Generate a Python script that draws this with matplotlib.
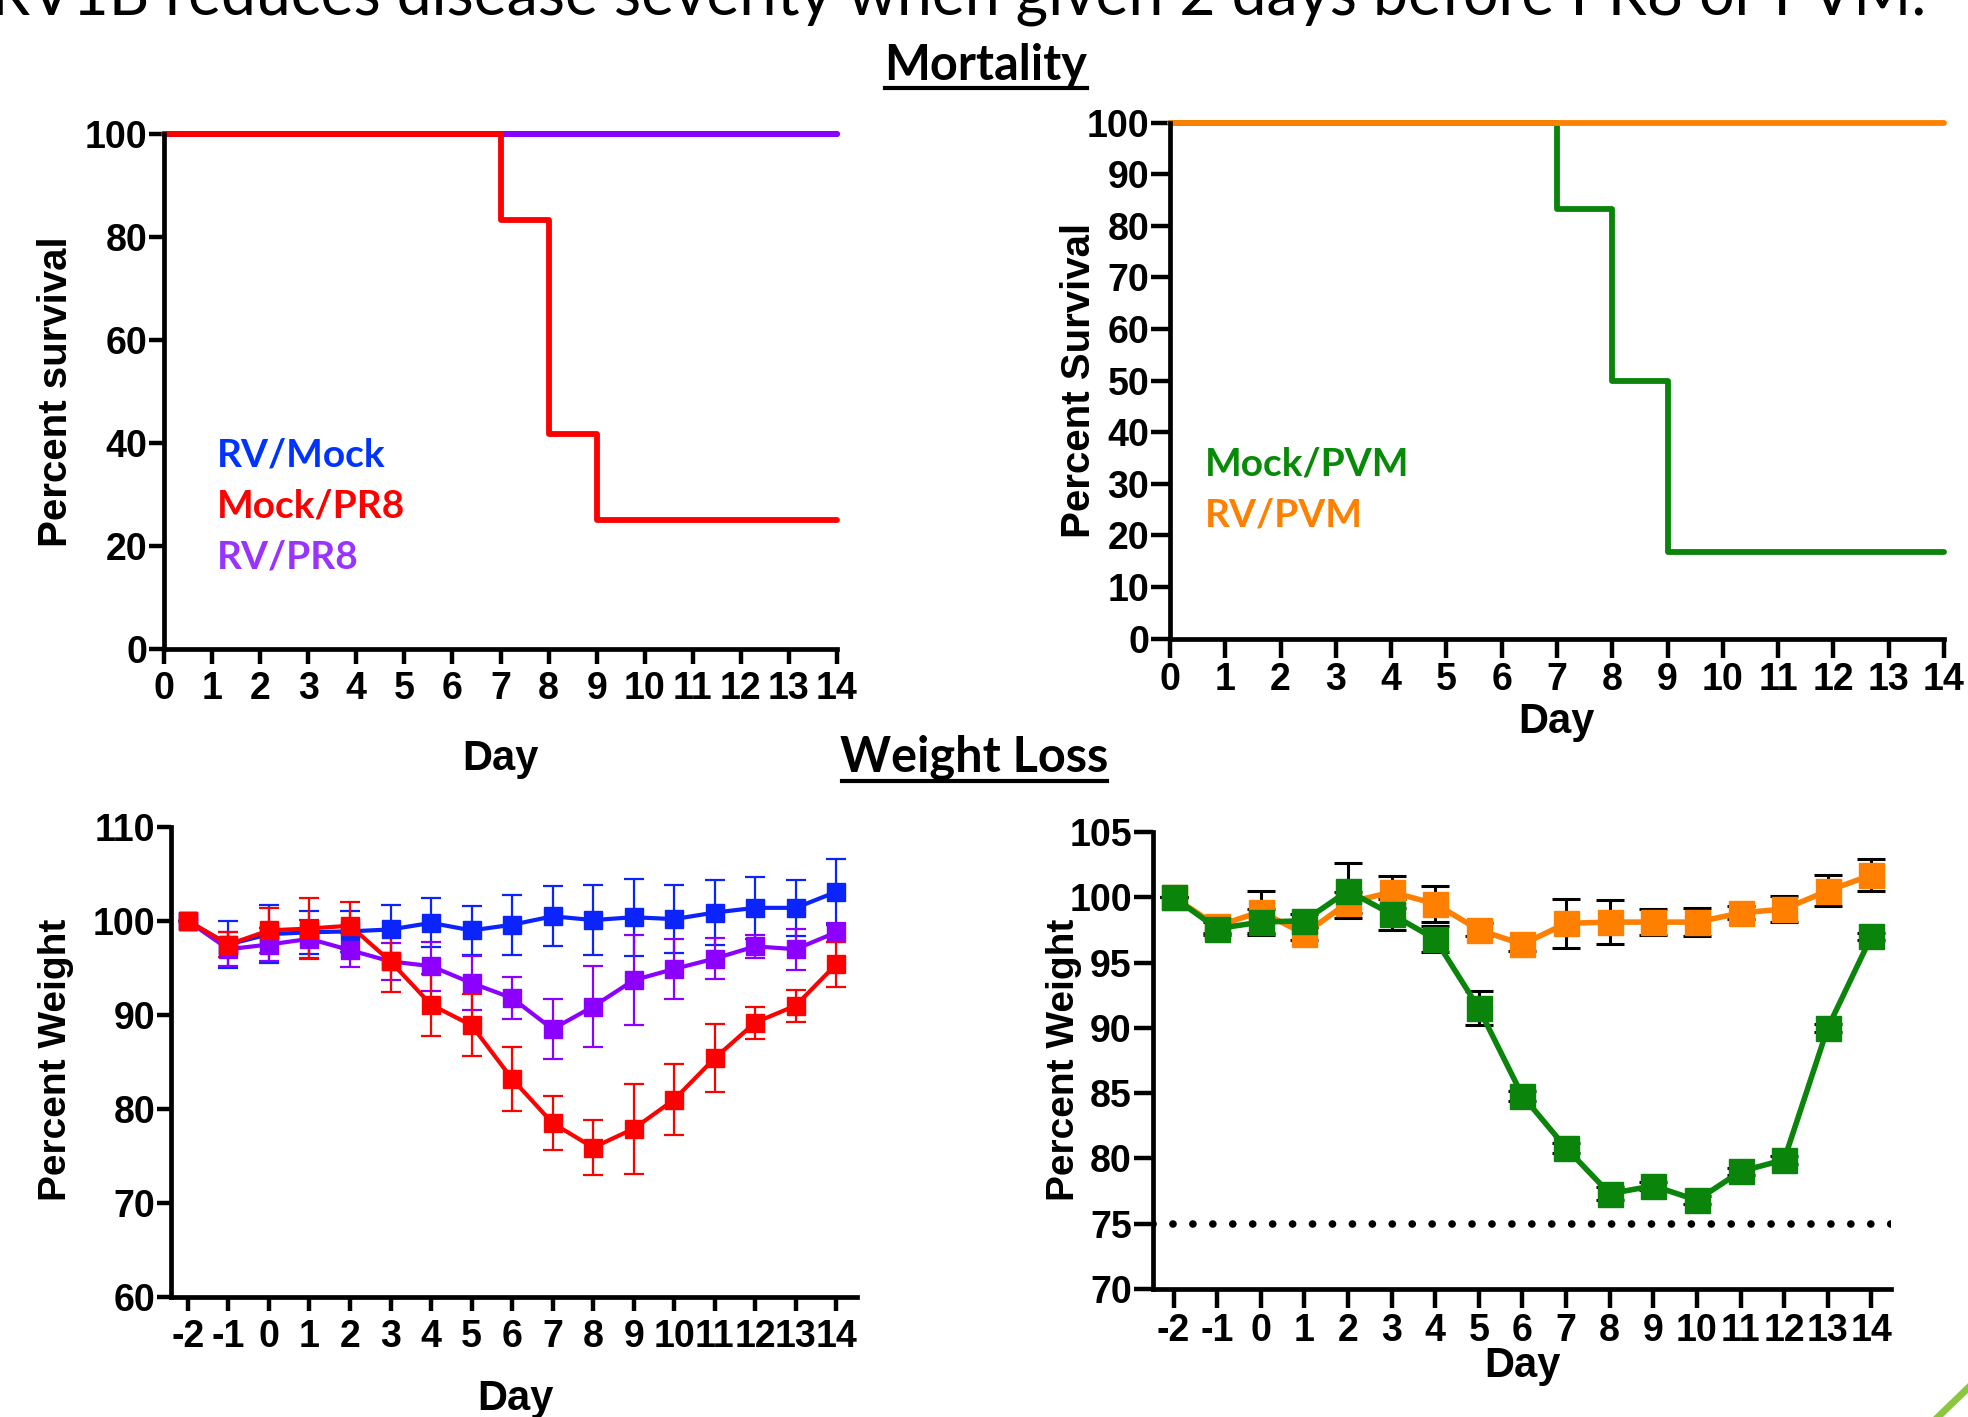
import matplotlib
matplotlib.use('Agg')
import matplotlib.pyplot as plt
from matplotlib.lines import Line2D

# survival curves (step after each day)
km_days = [0, 7, 8, 9, 14]
rv_mock_surv = [100, 100, 100, 100, 100]
mock_pr8_surv = [100, 83.3, 41.7, 25, 25]
rv_pr8_surv = [100, 100, 100, 100, 100]
mock_pvm_surv = [100, 83.3, 50, 16.7, 16.7]
rv_pvm_surv = [100, 100, 100, 100, 100]

# weight curves, days -2..14
wt_days = list(range(-2, 15))
rv_mock_wt = [100.0, 97.5, 98.6, 98.8, 98.9, 99.1, 99.8, 99.0, 99.6, 100.5, 100.1, 100.4, 100.2, 100.9, 101.4, 101.4, 103.1]
rv_mock_err = [0, 2.5, 3.1, 2.3, 2.2, 2.6, 2.6, 2.6, 3.2, 3.2, 3.7, 4.1, 3.6, 3.5, 3.3, 3.0, 3.5]
mock_pr8_wt = [100.0, 97.5, 99.0, 99.2, 99.5, 95.7, 91.1, 88.9, 83.2, 78.5, 75.9, 77.9, 81.0, 85.4, 89.2, 91.0, 95.4]
mock_pr8_err = [0, 1.3, 2.4, 3.2, 2.5, 3.3, 3.3, 3.3, 3.4, 2.9, 2.9, 4.8, 3.8, 3.6, 1.7, 1.7, 2.4]
rv_pr8_wt = [100.0, 97.0, 97.5, 98.1, 96.9, 95.7, 95.2, 93.4, 91.8, 88.5, 90.9, 93.7, 94.9, 96.0, 97.3, 97.0, 98.8]
rv_pr8_err = [0, 1.8, 1.8, 2.0, 1.8, 2.0, 2.6, 2.9, 2.2, 3.2, 4.3, 4.8, 3.2, 2.2, 1.2, 2.2, 1.0]

mock_pvm_wt = [100.0, 97.6, 98.1, 98.2, 100.5, 98.7, 96.8, 91.5, 84.8, 80.8, 77.3, 77.9, 76.8, 79.0, 79.9, 90.0, 97.0]
mock_pvm_err = [0, 0.5, 1.0, 0.5, 2.1, 1.2, 1.0, 1.3, 0.4, 0.4, 0.5, 0.3, 0.3, 0.3, 0.3, 0.3, 0.3]
rv_pvm_wt = [100.0, 97.8, 98.9, 97.2, 99.6, 100.4, 99.5, 97.5, 96.4, 98.0, 98.1, 98.1, 98.1, 98.8, 99.1, 100.5, 101.7]
rv_pvm_err = [0, 0.5, 1.6, 0.5, 0.8, 1.2, 1.4, 0.5, 0.5, 1.9, 1.7, 1.0, 1.1, 0.5, 1.0, 1.2, 1.2]

BLUE = '#0b24fb'
RED = '#fe0000'
PURPLE = '#8b00ff'
GREEN = '#0a840a'
ORANGE = '#ff8000'

NARROW = ['Liberation Sans Narrow', 'Liberation Sans', 'DejaVu Sans']
ARIAL = ['Liberation Sans', 'DejaVu Sans']
CALIBRI = ['Lato', 'DejaVu Sans']

plt.rcParams['font.family'] = NARROW
plt.rcParams['font.weight'] = 'bold'
plt.rcParams['axes.unicode_minus'] = False

W, H = 1968, 1417
fig = plt.figure(figsize=(W / 100, H / 100), dpi=100)


def rect(x0, y_bottom, w, h):
    return [x0 / W, 1 - y_bottom / H, w / W, h / H]


def fx(x):
    return x / W


def fy(y):
    return 1 - y / H


def style(ax, tick_len, pad_x, pad_y):
    for s in ['top', 'right']:
        ax.spines[s].set_visible(False)
    for s in ['left', 'bottom']:
        ax.spines[s].set_linewidth(3.4)
        ax.spines[s].set_capstyle('projecting')
    ax.tick_params(axis='both', direction='out', length=tick_len, width=3.2,
                   labelsize=27, color='black')
    ax.tick_params(axis='x', pad=pad_x)
    ax.tick_params(axis='y', pad=pad_y)
    for lab in ax.get_xticklabels() + ax.get_yticklabels():
        lab.set_fontweight('bold')
        lab.set_family(NARROW)


# ---------- Mortality, PR8 ----------
ax1 = fig.add_axes(rect(164, 649, 673, 515))
ax1.step(km_days, rv_mock_surv, where='post', color=BLUE, lw=4.2, clip_on=False,
         solid_capstyle='round')
ax1.step(km_days, rv_pr8_surv, where='post', color=PURPLE, lw=4.2, clip_on=False,
         solid_capstyle='round')
ax1.step(km_days, mock_pr8_surv, where='post', color=RED, lw=4.2, clip_on=False,
         solid_capstyle='round')
ax1.set_xlim(0, 14)
ax1.set_ylim(0, 100)
ax1.set_xticks(range(0, 15))
ax1.set_yticks(range(0, 101, 20))
style(ax1, 11, 5, 1)

# ---------- Mortality, PVM ----------
ax2 = fig.add_axes(rect(1170, 638.6, 774, 516))
ax2.step(km_days, mock_pvm_surv, where='post', color=GREEN, lw=4.2, clip_on=False,
         solid_capstyle='round')
ax2.step(km_days, rv_pvm_surv, where='post', color=ORANGE, lw=4.2, clip_on=False,
         solid_capstyle='round')
ax2.set_xlim(0, 14)
ax2.set_ylim(0, 100)
ax2.set_xticks(range(0, 15))
ax2.set_yticks(range(0, 101, 10))
style(ax2, 14, 3, 1)

# ---------- Weight, PR8 ----------
ax3 = fig.add_axes(rect(170.5, 1297, 686, 470))
for vals, errs, col in [(rv_mock_wt, rv_mock_err, BLUE),
                        (rv_pr8_wt, rv_pr8_err, PURPLE),
                        (mock_pr8_wt, mock_pr8_err, RED)]:
    ax3.errorbar(wt_days, vals, yerr=errs, color=col, lw=3, marker='s', ms=13,
                 elinewidth=1.6, capsize=7, capthick=1.6, clip_on=False)
ax3.set_xlim(-2.43, 14.5)
ax3.set_ylim(60, 110)
ax3.set_xticks(wt_days)
ax3.set_yticks(range(60, 111, 10))
style(ax3, 10, 6, 1)

# ---------- Weight, PVM ----------
ax4 = fig.add_axes(rect(1152.6, 1289, 738.4, 457))
ax4.axhline(75, color='black', lw=5.5, linestyle=(0, (0.01, 2.6)),
            dash_capstyle='round')
ax4.errorbar(wt_days, rv_pvm_wt, yerr=rv_pvm_err, color=ORANGE, lw=4, marker='s',
             ms=18, ecolor='black', elinewidth=2.2, capsize=10, capthick=2.2,
             clip_on=False)
ax4.errorbar(wt_days, mock_pvm_wt, yerr=mock_pvm_err, color=GREEN, lw=4, marker='s',
             ms=18, ecolor='black', elinewidth=2.2, capsize=10, capthick=2.2,
             clip_on=False)
ax4.set_xlim(-2.48, 14.45)
ax4.set_ylim(70, 105)
ax4.set_xticks(wt_days)
ax4.set_yticks(range(70, 106, 5))
style(ax4, 14, 3, 1)

# ---------- axis labels ----------
fig.text(fx(56), fy(392), 'Percent survival', rotation=90, ha='center', va='center',
         fontsize=29, family=ARIAL, fontweight='bold')
fig.text(fx(1079), fy(380), 'Percent Survival', rotation=90, ha='center', va='center',
         fontsize=29, family=ARIAL, fontweight='bold')
fig.text(fx(56), fy(1060), 'Percent Weight', rotation=90, ha='center', va='center',
         fontsize=28, family=ARIAL, fontweight='bold')
fig.text(fx(1064), fy(1060), 'Percent Weight', rotation=90, ha='center', va='center',
         fontsize=28, family=ARIAL, fontweight='bold')
fig.text(fx(500), fy(759), 'Day', ha='center', va='center', fontsize=30)
fig.text(fx(1556), fy(722), 'Day', ha='center', va='center', fontsize=30)
fig.text(fx(515), fy(1399), 'Day', ha='center', va='center', fontsize=30)
fig.text(fx(1522), fy(1366), 'Day', ha='center', va='center', fontsize=30)

# ---------- group labels ----------
for txt, y, c in [('RV/Mock', 455, '#0033ff'), ('Mock/PR8', 506, RED), ('RV/PR8', 557, '#9933ff')]:
    fig.text(fx(217), fy(y), txt, ha='left', va='center', color=c, fontsize=28,
             family=CALIBRI, fontweight='bold')
for txt, y, c in [('Mock/PVM', 464, '#078a07'), ('RV/PVM', 515, ORANGE)]:
    fig.text(fx(1205), fy(y), txt, ha='left', va='center', color=c, fontsize=28,
             family=CALIBRI, fontweight='bold')

# ---------- headings ----------
fig.text(fx(986), fy(80), 'Mortality', ha='center', va='baseline', fontsize=35,
         family=CALIBRI, fontweight='bold')
fig.add_artist(Line2D([fx(885), fx(1087)], [fy(88), fy(88)], color='black', lw=3))
fig.text(fx(974), fy(772), 'Weight Loss', ha='center', va='baseline', fontsize=35,
         family=CALIBRI, fontweight='bold')
fig.add_artist(Line2D([fx(842), fx(1107)], [fy(781), fy(781)], color='black', lw=3))

# slide title, cut off at the top edge; size it to the width seen in the slide
title = fig.text(fx(1926), fy(14), 'RV1B reduces disease severity when given 2 days before PR8 or PVM.',
                 ha='right', va='baseline', fontsize=44, family=CALIBRI, fontweight='normal')
fig.canvas.draw()
tw = title.get_window_extent().width
title.set_fontsize(44 * 1936 / tw)

# slide decoration in the corner
fig.add_artist(Line2D([fx(1938), fx(1968)], [fy(1417), fy(1388)], color='#8cc63f', lw=5))

fig.savefig('out.png', dpi=100)
